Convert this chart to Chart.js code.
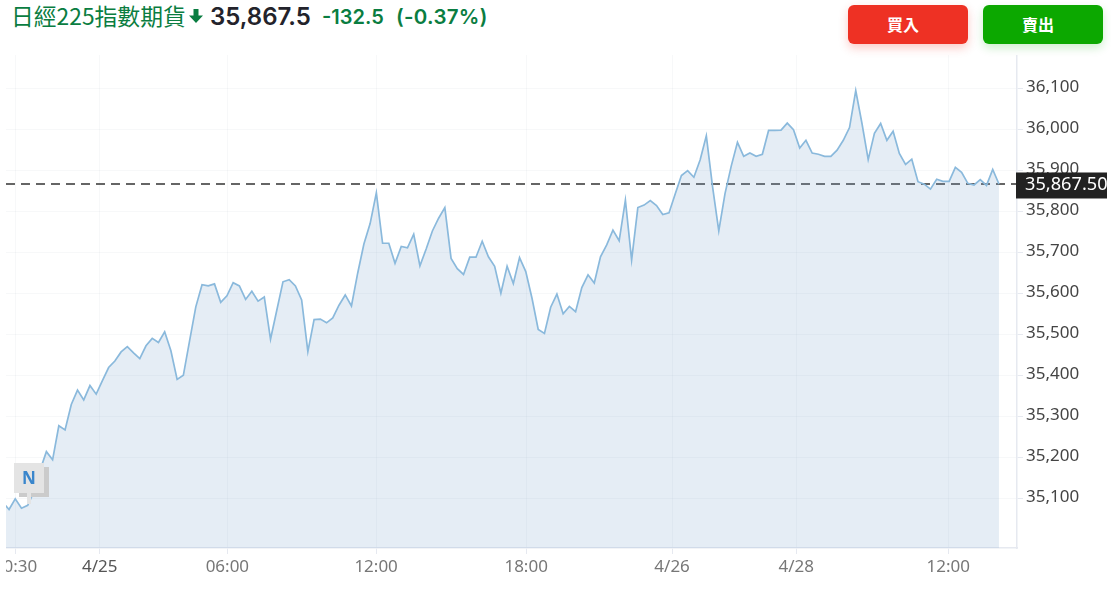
<!DOCTYPE html>
<html lang="zh-Hant"><head><meta charset="utf-8">
<script src="https://cdn.jsdelivr.net/npm/chart.js@4"></script>
<style>
html,body{margin:0;padding:0;background:#fff;width:1111px;height:593px;overflow:hidden}
body{position:relative;font-family:"Noto Sans CJK TC","Noto Sans",sans-serif}
canvas{position:absolute;left:6px;top:55px}
.h{position:absolute;white-space:nowrap;line-height:1}
.btn{position:absolute;top:5px;width:110px;padding-right:10px;height:39px;border-radius:6px;color:#fff;font-weight:700;font-size:16px;line-height:38px;text-align:center}
#flag{position:absolute;left:14px;top:463px;width:30px;height:30px;background:#e4e4e4;box-shadow:5px 4px 0 #cbcbcb;color:#3a86cc;font:700 17px "Noto Sans",sans-serif;line-height:30px;text-align:center}
#flag:after{content:"";position:absolute;left:13px;top:30px;width:4px;height:11px;background:#e4e4e4}
</style></head><body>
<div class="h" style="left:11px;top:5px;font-size:22.8px;color:#0a7d41">日經225指數期貨</div>
<svg style="position:absolute;left:189px;top:9px" width="14" height="14" viewBox="0 0 14 14"><path d="M4.5 0h5v6.5H14L7 14 0 6.5h4.5z" fill="#0a7d41"/></svg>
<div class="h" style="left:210px;top:5px;font-size:24px;font-weight:600;font-family:Inter;color:#23232b">35,867.5</div>
<div class="h" style="left:322px;top:7px;font-size:20px;font-weight:600;font-family:Inter;color:#0a7d41">-132.5</div>
<div class="h" style="left:396px;top:7px;font-size:20.5px;font-weight:600;font-family:Inter;color:#0a7d41;letter-spacing:.3px">(-0.37%)</div>
<div class="btn" style="left:848px;background:#ee3124;box-shadow:0 4px 10px rgba(238,49,36,.25)">買入</div>
<div class="btn" style="left:983px;background:#0ca800;box-shadow:0 4px 10px rgba(12,168,0,.2)">賣出</div>
<canvas id="c" width="1105" height="538"></canvas>
<div id="flag">N</div>
<script>
const prices = [35091,35074,35100,35077,35084,35117,35170,35215,35195,35278,35268,35330,35365,35341,35376,35355,35388,35420,35436,35458,35471,35456,35442,35473,35491,35481,35507,35461,35391,35401,35485,35568,35622,35619,35624,35579,35595,35627,35619,35586,35606,35582,35592,35489,35559,35629,35634,35619,35585,35459,35537,35538,35529,35541,35572,
35597,35570,35650,35721,35771,35846,35723,35723,35674,35715,35712,35745,35668,35709,35753,35784,35810,35686,35661,35647,35689,35689,35728,35690,35667,35601,35667,35625,35688,35654,35589,35513,35503,35567,35599,35551,35569,35556,35615,35646,35626,35690,35719,35755,35729,35828,35682,35810,35816,35827,35815,35793,35797,
35843,35888,35900,35884,35926,35985,35861,35753,35844,35911,35969,35935,35943,35935,35940,35998,35998,35999,36016,36000,35955,35974,35943,35940,35935,35935,35950,35974,36005,36095,36015,35927,35991,36015,35974,35996,35942,35915,35928,35873,35867,35855,35879,35874,35874,35908,35896,35869,35865,35878,35864,35903,35867.5];
const xTickPositions = [2.04,15.57,36.07,59.96,84.06,107.5,127.44,151.86];
const xTickLabels = ["00:30","4/25","06:00","12:00","18:00","4/26","4/28","12:00"];
const yTicks = [35100,35200,35300,35400,35500,35600,35700,35800,35900,36000,36100];
const lastPrice = 35867.5;
const priceLine = [{x:0.514,y:lastPrice},{x:162.9,y:lastPrice}];

const tagPlugin = {id:'tag',afterDraw(chart){
  const ctx=chart.ctx,y=chart.scales.y.getPixelForValue(lastPrice),l=chart.chartArea.right-1;
  ctx.save();
  ctx.fillStyle='#222';ctx.fillRect(l,y-11.5,chart.width-l-4,26);
  ctx.beginPath();ctx.rect(l,y-11.5,chart.width-l-4,26);ctx.clip();
  ctx.fillStyle='#fff';ctx.font='18.2px "Noto Sans"';ctx.textBaseline='middle';ctx.textAlign='left';
  ctx.fillText(lastPrice.toLocaleString('en-US',{minimumFractionDigits:2}),l+9,y+1);
  ctx.restore();
}};
new Chart(document.getElementById('c'),{
  type:'line',
  data:{datasets:[
    {data:prices.map((y,x)=>({x,y})),borderColor:'#8ab9dc',borderWidth:1.7,pointRadius:0,tension:0,
     fill:'start',backgroundColor:'rgba(125,165,205,0.2)'},
    {data:priceLine,borderColor:'#333',borderWidth:1.4,borderDash:[9,6],pointRadius:0,fill:false}
  ]},
  options:{
    responsive:false,animation:false,devicePixelRatio:1,
    layout:{padding:0},
    plugins:{legend:{display:false},tooltip:{enabled:false}},
    scales:{
      x:{type:'linear',min:0.514,max:162.9,
        afterBuildTicks:s=>{s.ticks=xTickPositions.map(value=>({value}))},
        afterFit:s=>{s.height=45;s.paddingLeft=0;s.paddingRight=0},
        grid:{color:'rgba(120,135,160,0.06)',tickColor:'#e6e9f0',tickLength:6,drawTicks:true},
        border:{color:'#e6e9f0',width:1.5},
        ticks:{autoSkip:false,maxRotation:0,padding:3,
          color:c=>c.tick&&c.tick.value===xTickPositions[1]?'#555':'#777',
          font:{family:'"Noto Sans"',size:17},
          callback:v=>xTickLabels[xTickPositions.indexOf(v)]}},
      y:{position:'right',min:34980,max:36182,
        afterBuildTicks:s=>{s.ticks=yTicks.map(value=>({value}))},
        afterFit:s=>{s.width=94;s.paddingTop=0;s.paddingBottom=0},
        grid:{color:'rgba(120,135,160,0.06)',tickColor:'#e6e9f0',tickLength:6},
        border:{color:'#e6e9f0',width:1.5},
        ticks:{padding:3,labelOffset:-1.5,color:'#444',font:{family:'"Noto Sans"',size:17},
          callback:v=>v.toLocaleString('en-US')}}
    }
  },
  plugins:[tagPlugin]
});
</script>
</body></html>
